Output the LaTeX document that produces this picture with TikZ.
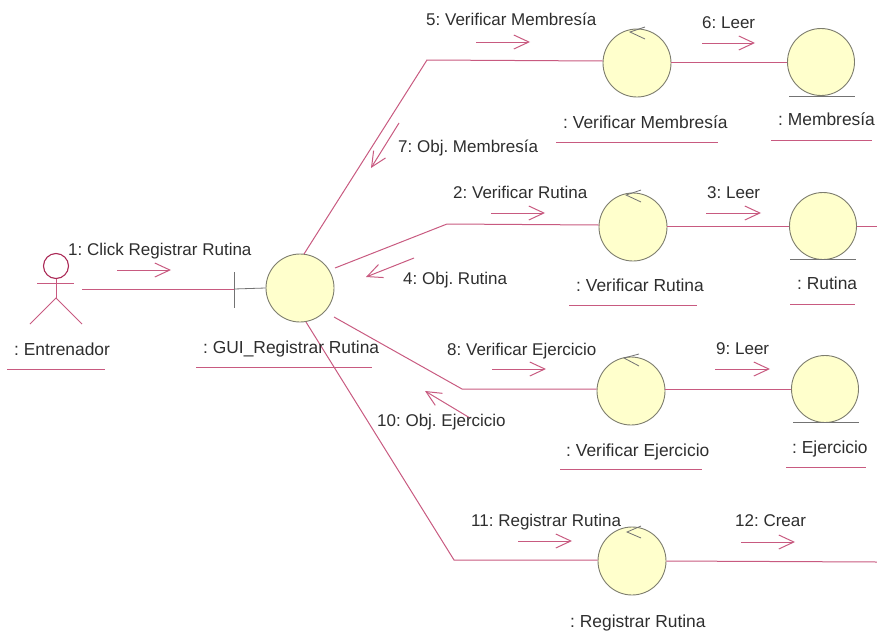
\documentclass[tikz,border=0pt]{standalone}
\usepackage{fontspec}
\setmainfont{Liberation Sans}
\usetikzlibrary{arrows.meta}
\definecolor{rose}{RGB}{200,90,128}
\definecolor{headc}{RGB}{170,40,85}
\definecolor{ringc}{RGB}{125,125,110}
\definecolor{fillc}{RGB}{255,255,204}
\tikzset{
  x=1pt,y=-1pt,
  obj/.style={circle,draw=ringc,fill=fillc,line width=0.9pt,inner sep=0pt,minimum size=68pt},
  ent/.style={obj,minimum size=67pt},
  link/.style={draw=rose,line width=1pt},
  msg/.style={draw=rose,line width=1pt,-{Straight Barb[length=15pt,width=14pt,line width=1pt]}},
  ul/.style={draw=rose,line width=1pt},
  lbl/.style={anchor=base west,inner sep=0pt,font=\fontsize{17pt}{19pt}\selectfont\frenchspacing,text=black!82},
  olbl/.style={lbl,font=\fontsize{17.4pt}{19pt}\selectfont\frenchspacing},
  dark/.style={draw=black!55,line width=0.8pt}
}
\begin{document}
\begin{tikzpicture}
\useasboundingbox (0,0) rectangle (877,637);
% objects
\node[obj] (gui) at (300,288) {};
\node[obj] (vm) at (637,63) {};
\node[ent] (em) at (821,62) {};
\node[obj] (vr) at (633,227) {};
\node[ent] (er) at (823,226) {};
\node[obj] (ve) at (631,391) {};
\node[ent] (ee) at (825,389) {};
\node[obj] (rr) at (632,561) {};
% bends and free ends
\coordinate (b1) at (427,60);
\coordinate (b2) at (447,224);
\coordinate (b3) at (462,389);
\coordinate (b4) at (454,560);
\coordinate (g1) at (304,254);
\coordinate (g2) at (335,268);
\coordinate (g3) at (334,317);
\coordinate (g4) at (306,322);
\coordinate (outr) at (877,226);
\coordinate (outc) at (877,562);
\coordinate (act) at (82,289);
\coordinate (tick) at (234,289);
% connectors
\draw[link] (g1) -- (b1) -- (vm.west |- 0,61);
\draw[link] (g2) -- (b2) -- (vr.west |- 0,225);
\draw[link] (g3) -- (b3) -- (ve.west |- 0,389);
\draw[link] (g4) -- (b4) -- (rr.west |- 0,560);
\draw[link] (vm.east |- 0,62) -- (em.west);
\draw[link] (vr.east |- 0,226) -- (er.west);
\draw[link] (er.east) -- (outr);
\draw[link] (ve.east |- 0,389) -- (ee.west);
\draw[link] (rr.east) -- (outc);
\draw[link] (act) -- (tick);
\draw[dark] (tick) -- (gui.west);
\draw[dark] (234,272) -- (234,308);
% control markers
\draw[dark] (645,27) -- (630,32) -- (645,39);
\draw[dark] (641,190) -- (626,195) -- (641,202);
\draw[dark] (639,354) -- (624,358) -- (639,366);
\draw[dark] (641,526) -- (627,532) -- (641,538);
% entity bases
\draw[dark] (789,96) -- (855,96);
\draw[dark] (790,259) -- (856,259);
\draw[dark] (793,422) -- (859,422);
% actor
\node[circle,draw=headc,line width=1.1pt,inner sep=0pt,minimum size=25pt] (head) at (56,266) {};
\coordinate (hip) at (56,298);
\draw[link] (head) -- (hip);
\draw[link] (37,283) -- (74,283);
\draw[link] (30,324) -- (hip) -- (82,324);
% messages
\draw[msg] (117,270) -- (171,270);
\draw[msg] (476,42) -- (530,42);
\draw[msg] (702,43) -- (755,43);
\draw[msg] (399,123) -- (371,168);
\draw[msg] (491,213) -- (545,213);
\draw[msg] (706,213) -- (761,213);
\draw[msg] (414,258) -- (366,277);
\draw[msg] (492,369) -- (546,369);
\draw[msg] (715,369) -- (770,369);
\draw[msg] (470,418) -- (425,391);
\draw[msg] (518,541) -- (572,541);
\draw[msg] (741,542) -- (795,542);
% labels
\node[lbl] (m1) at (68,255) {1: Click Registrar Rutina};
\node[lbl] (m5) at (426,25) {5: Verificar Membresía};
\node[lbl] (m6) at (702,28) {6: Leer};
\node[lbl] (m7) at (398,152) {7: Obj. Membresía};
\node[lbl] (m2) at (453,198) {2: Verificar Rutina};
\node[lbl] (m3) at (707,198) {3: Leer};
\node[lbl] (m4) at (403,284) {4: Obj. Rutina};
\node[lbl] (m8) at (447,355) {8: Verificar Ejercicio};
\node[lbl] (m9) at (716,354) {9: Leer};
\node[lbl] (m10) at (377,426) {10: Obj. Ejercicio};
\node[lbl] (m11) at (471,526) {11: Registrar Rutina};
\node[lbl] (m12) at (735,526) {12: Crear};
\node[olbl] (t0) at (14,355) {: Entrenador};
\node[olbl] (t1) at (203,353) {: GUI\_Registrar Rutina};
\node[olbl] (t2) at (563,128) {: Verificar Membresía};
\node[olbl] (t3) at (778,125) {: Membresía};
\node[olbl] (t4) at (576,291) {: Verificar Rutina};
\node[olbl] (t5) at (797,289) {: Rutina};
\node[olbl] (t6) at (566,456) {: Verificar Ejercicio};
\node[olbl] (t7) at (792,453) {: Ejercicio};
\node[olbl] (t8) at (570,627) {: Registrar Rutina};
% underlines
\draw[ul] (7,369) -- (105,369);
\draw[ul] (196,367) -- (372,367);
\draw[ul] (556,142) -- (718,142);
\draw[ul] (771,140) -- (872,140);
\draw[ul] (569,305) -- (697,305);
\draw[ul] (790,304) -- (855,304);
\draw[ul] (560,469) -- (702,469);
\draw[ul] (786,467) -- (866,467);
\end{tikzpicture}
\end{document}
